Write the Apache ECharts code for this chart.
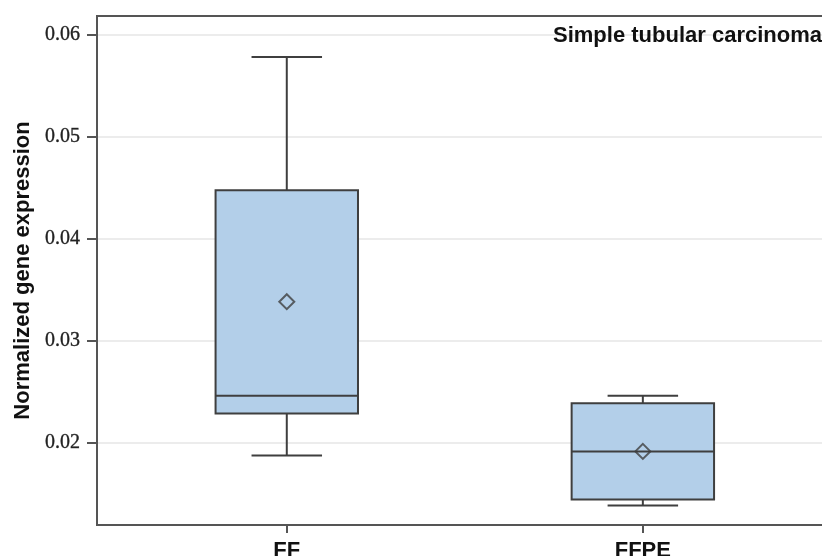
<!DOCTYPE html>
<html>
<head>
<meta charset="utf-8">
<script src="https://cdn.jsdelivr.net/npm/echarts@6/dist/echarts.min.js"></script>
<style>
html,body{margin:0;padding:0;background:#fff;}
#chart{width:822px;height:556px;}
</style>
</head>
<body>
<div id="chart"></div>
<script>
const categories = ['FF', 'FFPE'];
const whiskerLow = [0.0188, 0.0139];
const q1 = [0.0229, 0.0145];
const median = [0.02465, 0.0192];
const q3 = [0.04475, 0.0239];
const whiskerHigh = [0.0578, 0.02465];
const means = [0.03385, 0.0192];
const yTicks = [0.02, 0.03, 0.04, 0.05, 0.06];
const chartTitle = 'Simple tubular carcinoma';
const yTitle = 'Normalized gene expression';

const boxData = categories.map((c, i) => [i, whiskerLow[i], q1[i], median[i], q3[i], whiskerHigh[i]]);
const meanData = categories.map((c, i) => [i, means[i]]);

const chart = echarts.init(document.getElementById('chart'));
const edge = '#3f3f3f';
chart.setOption({
  animation: false,
  backgroundColor: '#fff',
  title: {
    text: chartTitle,
    left: 553, top: 25, padding: 0,
    textStyle: {fontFamily: 'Liberation Sans, Arial', fontWeight: 'bold', fontSize: 22, color: '#111'}
  },
  grid: {
    left: 97, top: 16, right: -6, bottom: 31,
    outerBoundsMode: 'none', containLabel: false,
    show: true, borderColor: '#555', borderWidth: 2, backgroundColor: 'transparent'
  },
  xAxis: {
    type: 'value', min: -0.533, max: 1.52,
    axisLine: {show: true, onZero: false, lineStyle: {color: '#555', width: 2}},
    axisTick: {show: true, length: 8, customValues: [0, 1], lineStyle: {color: '#555', width: 2}},
    axisLabel: {
      customValues: [0, 1], margin: 15,
      formatter: v => categories[Math.round(v)] || '',
      fontFamily: 'Liberation Sans, Arial', fontWeight: 'bold', fontSize: 22, color: '#111'
    },
    splitLine: {show: false}
  },
  yAxis: {
    type: 'value', min: 0.012, max: 0.0618,
    name: yTitle, nameLocation: 'middle', nameGap: 60,
    nameTextStyle: {fontFamily: 'Liberation Sans, Arial', fontWeight: 'bold', fontSize: 22, color: '#111'},
    axisLine: {show: true, onZero: false, lineStyle: {color: '#555', width: 2}},
    axisTick: {show: true, length: 10, customValues: yTicks, lineStyle: {color: '#555', width: 2}},
    axisLabel: {
      customValues: yTicks, margin: 17,
      formatter: v => v.toFixed(2),
      fontFamily: 'Liberation Serif, Times New Roman, serif', fontSize: 20, color: '#222',
      textBorderColor: '#444', textBorderWidth: 0.4
    },
    splitLine: {show: true, customValues: yTicks, lineStyle: {color: '#ececec', width: 2}}
  },
  series: [
    {
      type: 'custom',
      data: boxData,
      encode: {x: 0, y: [1, 2, 3, 4, 5]},
      renderItem: function (params, api) {
        const i = api.value(0);
        const boxHalf = api.size([0.2, 0])[0];
        const capHalf = api.size([0.099, 0])[0];
        const cx = api.coord([i, api.value(3)])[0];
        const yLo = api.coord([i, api.value(1)])[1];
        const yQ1 = api.coord([i, api.value(2)])[1];
        const yMed = api.coord([i, api.value(3)])[1];
        const yQ3 = api.coord([i, api.value(4)])[1];
        const yHi = api.coord([i, api.value(5)])[1];
        const ls = {stroke: edge, lineWidth: 2, fill: null};
        return {
          type: 'group',
          children: [
            {type: 'line', shape: {x1: cx, y1: yHi, x2: cx, y2: yQ3}, style: ls},
            {type: 'line', shape: {x1: cx, y1: yQ1, x2: cx, y2: yLo}, style: ls},
            {type: 'line', shape: {x1: cx - capHalf, y1: yHi, x2: cx + capHalf, y2: yHi}, style: ls},
            {type: 'line', shape: {x1: cx - capHalf, y1: yLo, x2: cx + capHalf, y2: yLo}, style: ls},
            {type: 'rect', shape: {x: cx - boxHalf, y: yQ3, width: boxHalf * 2, height: yQ1 - yQ3},
              style: {fill: '#b3cfe9', stroke: edge, lineWidth: 2}},
            {type: 'line', shape: {x1: cx - boxHalf, y1: yMed, x2: cx + boxHalf, y2: yMed}, style: ls}
          ]
        };
      }
    },
    {
      type: 'scatter',
      data: meanData,
      symbol: 'diamond',
      symbolSize: 15,
      z: 5,
      itemStyle: {color: 'transparent', borderColor: edge, borderWidth: 2}
    }
  ]
});
</script>
</body>
</html>
